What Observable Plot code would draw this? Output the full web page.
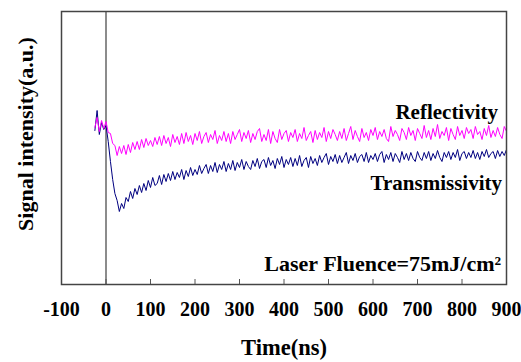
<!DOCTYPE html>
<html>
<head>
<meta charset="utf-8">
<script src="https://cdn.jsdelivr.net/npm/d3@7"></script>
<script src="https://cdn.jsdelivr.net/npm/@observablehq/plot@0.6"></script>
<style>
  html, body { margin: 0; padding: 0; background: #fff; }
</style>
</head>
<body>
<div id="chart"></div>
<script>
// Time axis (ns): samples every 5 ns from -25 to 900
const time = d3.range(-25, 905, 5);

// Signal intensity (a.u.)
const reflectivity = [
  157, 167, 153, 164, 156, 163, 152, 151, 141, 139,
  129, 138, 131, 139, 130, 140, 132, 142, 135, 143,
  135, 145, 137, 146, 139, 144, 138, 147, 140, 148,
  139, 149, 141, 147, 138, 150, 142, 148, 140, 151,
  141, 152, 143, 149, 140, 151, 144, 153, 141, 148,
  152, 142, 150, 145, 154, 141, 149, 144, 153, 143,
  151, 141, 153, 145, 150, 155, 143, 152, 146, 154,
  142, 151, 145, 153, 156, 143, 150, 144, 155, 141,
  153, 146, 142, 155, 145, 151, 154, 143, 152, 147,
  155, 143, 151, 146, 157, 144, 149, 153, 142, 154,
  145, 152, 147, 157, 143, 153, 146, 155, 150, 144,
  153, 146, 156, 144, 151, 158, 145, 154, 148, 143,
  156, 147, 152, 144, 155, 149, 157, 145, 153, 148,
  155, 146, 143, 158, 148, 154, 150, 144, 156, 152,
  145, 157, 149, 154, 144, 156, 151, 146, 159, 147,
  154, 145, 156, 148, 160, 146, 153, 149, 157, 144,
  156, 150, 145, 158, 149, 154, 146, 157, 151, 155,
  146, 158, 150, 153, 145, 156, 149, 159, 147, 154,
  148, 157, 150, 146, 158, 153
];

const transmissivity = [
  154, 174, 150, 162, 155, 159, 143, 123, 105, 91,
  84, 73, 81, 76, 87, 83, 93, 86, 96, 90,
  99, 92, 101, 94, 104, 97, 107, 99, 101, 109,
  100, 110, 103, 111, 104, 113, 105, 112, 107, 115,
  105, 114, 108, 117, 109, 115, 110, 119, 111, 116,
  120, 111, 119, 113, 122, 112, 120, 115, 123, 113,
  121, 115, 124, 114, 122, 117, 125, 115, 123, 118,
  115, 124, 118, 126, 116, 123, 125, 117, 127, 119,
  124, 116, 126, 120, 128, 117, 125, 120, 127, 118,
  126, 119, 129, 118, 124, 127, 117, 128, 121, 126,
  119, 129, 122, 127, 131, 120, 128, 123, 130, 121,
  129, 122, 127, 132, 121, 129, 124, 131, 122, 128,
  130, 123, 132, 122, 129, 125, 131, 123, 130, 133,
  122, 130, 125, 132, 123, 131, 127, 122, 133, 125,
  131, 124, 132, 126, 123, 133, 127, 124, 132, 126,
  133, 124, 131, 126, 134, 127, 123, 132, 127, 133,
  125, 132, 127, 135, 124, 131, 133, 126, 132, 127,
  134, 126, 132, 125, 133, 128, 135, 127, 131, 133,
  126, 134, 128, 133, 129, 135
];

const xTicks = [-100, 0, 100, 200, 300, 400, 500, 600, 700, 800, 900];

const curveLabels = [
  {text: "Reflectivity", x: 881, y: 172},
  {text: "Transmissivity", x: 890, y: 101}
];
const fluenceLabel = [{text: "Laser Fluence=75mJ/cm²", x: 888, y: 21}];

const reflData = time.map((t, i) => ({t, v: reflectivity[i]}));
const transData = time.map((t, i) => ({t, v: transmissivity[i]}));

const chart = Plot.plot({
  width: 521,
  height: 362,
  marginLeft: 61,
  marginRight: 15,
  marginTop: 11,
  marginBottom: 78,
  style: {fontFamily: "'Liberation Serif', 'Times New Roman', serif", fontWeight: "bold", background: "#fff", color: "#000"},
  x: {domain: [-100, 900]},
  y: {domain: [0, 273], axis: null},
  marks: [
    Plot.ruleX([0], {stroke: "#8c8c8c", strokeWidth: 2}),
    Plot.line(transData, {x: "t", y: "v", stroke: "#000080", strokeWidth: 1}),
    Plot.line(reflData, {x: "t", y: "v", stroke: "#ff00ff", strokeWidth: 1}),
    Plot.tickX(xTicks, {x: d => d, insetTop: 268, stroke: "#555", strokeWidth: 1}),
    Plot.axisX(xTicks, {tickSize: 0, tickPadding: 17, fontSize: 20, fontWeight: "bold", label: null, tickFormat: d => String(d)}),
    Plot.frame({stroke: "#444", strokeWidth: 1.5}),
    Plot.text(curveLabels, {x: "x", y: "y", text: "text", textAnchor: "end", fontSize: 21, fontWeight: "bold", fill: "#000"}),
    Plot.text(fluenceLabel, {x: "x", y: "y", text: "text", textAnchor: "end", fontSize: 22, fontWeight: "bold", fill: "#000"}),
    Plot.text(["Time(ns)"], {frameAnchor: "bottom", dy: 70, fontSize: 22.5, fontWeight: "bold", fill: "#000"}),
    Plot.text(["Signal intensity(a.u.)"], {frameAnchor: "left", textAnchor: "middle", dx: -36, dy: -14, rotate: -90, fontSize: 22, fontWeight: "bold", fill: "#000"})
  ]
});

document.getElementById("chart").appendChild(chart);
</script>
</body>
</html>
